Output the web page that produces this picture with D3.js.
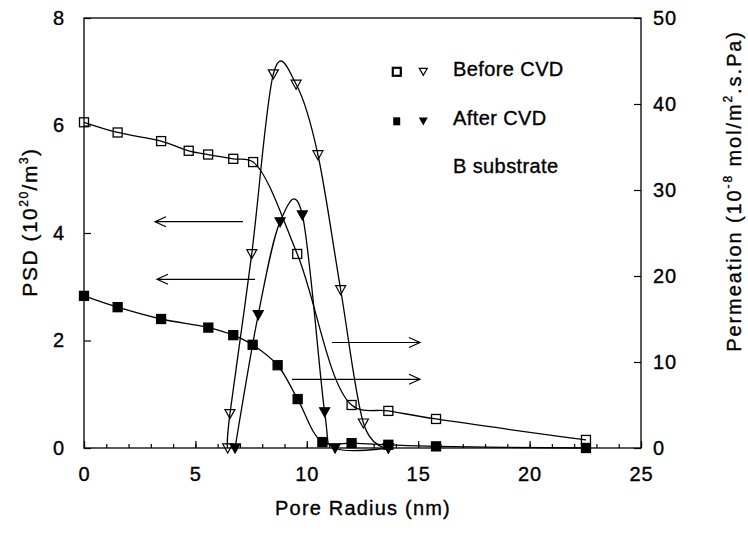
<!DOCTYPE html>
<html><head><meta charset="utf-8">
<script src="https://cdn.jsdelivr.net/npm/d3@7"></script>
<style>
body{margin:0;background:#fff;}
svg{display:block;}
text{font-family:"Liberation Sans",Arial,sans-serif;fill:#000;stroke:#000;stroke-width:0.35px;}
</style></head>
<body>
<svg id="chart" width="748" height="540"></svg>
<script>
// ---- data ----
const xTicks = [0, 5, 10, 15, 20, 25];
const yLeftTicks = [0, 2, 4, 6, 8];
const yRightTicks = [0, 10, 20, 30, 40, 50];

// PSD (10^20/m^3) vs pore radius (nm)
const psdBeforeX = [0, 1.51, 3.46, 4.70, 5.57, 6.70, 7.59, 9.57, 12.01, 13.66, 15.8, 22.53];
const psdBeforeY = [6.06, 5.87, 5.71, 5.53, 5.46, 5.38, 5.32, 3.61, 0.80, 0.69, 0.54, 0.15];
const psdAfterX = [0, 1.51, 3.46, 5.58, 6.70, 7.57, 8.69, 9.59, 10.70, 12.01, 13.66, 15.8, 22.53];
const psdAfterY = [2.83, 2.62, 2.40, 2.24, 2.10, 1.92, 1.54, 0.91, 0.11, 0.09, 0.06, 0.03, 0.0];

// Permeation (10^-8 mol/m^2.s.Pa) vs pore radius (nm)
const permBeforeX = [6.45, 6.55, 7.53, 8.50, 9.52, 10.50, 11.52, 12.54, 13.66];
const permBeforeY = [0, 4.0, 22.6, 43.5, 42.3, 34.1, 18.4, 2.9, 0];
const permAfterX = [6.78, 7.82, 8.80, 9.80, 10.80, 11.27, 13.66];
const permAfterY = [0, 15.5, 26.3, 27.1, 4.2, 0, 0];

// ---- layout ----
const svg = d3.select("#chart");
const L = 84, R = 641, T = 18, B = 448;
const x = d3.scaleLinear().domain([0, 25]).range([L, R]);
const yL = d3.scaleLinear().domain([0, 8]).range([B, T]);
const yR = d3.scaleLinear().domain([0, 50]).range([B, T]);
const FS = 20;

// frame
svg.append("rect").attr("x", L).attr("y", T).attr("width", R - L).attr("height", B - T)
  .attr("fill", "none").attr("stroke", "#000").attr("stroke-width", 1.3);

function styleAxis(g) {
  g.select(".domain").remove();
  g.selectAll("line").attr("stroke", "#000").attr("stroke-width", 1.2);
  g.selectAll("text").attr("font-size", FS).attr("letter-spacing", 1)
    .attr("font-family", '"Liberation Sans",Arial,sans-serif').attr("fill", "#000");
}

svg.append("g").attr("transform", `translate(${L},0)`)
  .call(d3.axisLeft(yL).tickValues(yLeftTicks).tickSize(-7).tickSizeOuter(0).tickPadding(19).tickFormat(d3.format("d")))
  .call(styleAxis);
svg.append("g").attr("transform", `translate(${R},0)`)
  .call(d3.axisRight(yR).tickValues(yRightTicks).tickSize(-7).tickSizeOuter(0).tickPadding(12).tickFormat(d3.format("d")))
  .call(styleAxis);
svg.append("g").attr("transform", `translate(0,${B})`)
  .call(d3.axisBottom(x).tickValues(xTicks).tickSize(-7).tickSizeOuter(0).tickPadding(19).tickFormat(d3.format("d")))
  .call(styleAxis);
svg.append("g").attr("transform", `translate(0,${B})`)
  .call(d3.axisBottom(x).tickValues(d3.range(0, 26, 1)).tickSize(-4).tickSizeOuter(0).tickFormat(""))
  .call(styleAxis);

// axis titles
svg.append("text").attr("x", 363).attr("y", 515).attr("text-anchor", "middle")
  .attr("font-size", FS).attr("letter-spacing", 1.2).text("Pore Radius (nm)");

const lt = svg.append("text").attr("transform", "translate(37,222) rotate(-90)")
  .attr("text-anchor", "middle").attr("font-size", 21).attr("letter-spacing", 1.5);
lt.append("tspan").text("PSD (10");
lt.append("tspan").attr("font-size", 12).attr("dy", -9).text("20");
lt.append("tspan").attr("dy", 9).text("/m");
lt.append("tspan").attr("font-size", 12).attr("dy", -9).text("3");
lt.append("tspan").attr("dy", 9).text(")");

const rt = svg.append("text").attr("transform", "translate(741,191) rotate(-90)")
  .attr("text-anchor", "middle").attr("font-size", 20).attr("letter-spacing", 1.9);
rt.append("tspan").text("Permeation (10");
rt.append("tspan").attr("font-size", 12).attr("dy", -9).text("-8");
rt.append("tspan").attr("dy", 9).text(" mol/m");
rt.append("tspan").attr("font-size", 12).attr("dy", -9).text("2");
rt.append("tspan").attr("dy", 9).text(".s.Pa)");

// curves
const plot = svg.append("g");
function curve(xs, ys, ys_scale, curveType) {
  const pts = xs.map((v, i) => [x(v), ys_scale(ys[i])]);
  plot.append("path").attr("d", d3.line().curve(curveType)(pts))
    .attr("fill", "none").attr("stroke", "#000").attr("stroke-width", 1.3);
  return pts;
}
const pB = curve(psdBeforeX, psdBeforeY, yL, d3.curveCatmullRom.alpha(0.5));
const pA = curve(psdAfterX, psdAfterY, yL, d3.curveCatmullRom.alpha(0.5));
const qB = curve(permBeforeX, permBeforeY, yR, d3.curveCardinal.tension(0));
const qA = curve(permAfterX, permAfterY, yR, d3.curveCardinal.tension(0));

// markers
const tri = (w, h) => `M0,${h * 0.55} L${-w / 2},${-h * 0.45} L${w / 2},${-h * 0.45} Z`;
function squares(pts, filled, s) {
  plot.selectAll(null).data(pts).enter().append("rect")
    .attr("x", d => d[0] - s / 2).attr("y", d => d[1] - s / 2).attr("width", s).attr("height", s)
    .attr("fill", filled ? "#000" : "none").attr("stroke", "#000").attr("stroke-width", 1.3);
}
function triangles(pts, filled, s) {
  plot.selectAll(null).data(pts).enter().append("path")
    .attr("transform", d => `translate(${d[0]},${d[1]})`).attr("d", tri(s, s * 0.9))
    .attr("fill", filled ? "#000" : "none").attr("stroke", "#000").attr("stroke-width", 1.2);
}
squares(pB, false, 9);
squares(pA, true, 9);
triangles(qB, false, 10);
triangles(qA, true, 10);

// arrows
function arrow(x1, x2, y) {
  const dir = Math.sign(x2 - x1);
  plot.append("path").attr("d", `M${x1},${y} L${x2},${y} M${x2 - dir * 11},${y - 5} L${x2},${y} L${x2 - dir * 11},${y + 5}`)
    .attr("fill", "none").attr("stroke", "#000").attr("stroke-width", 1.2);
}
arrow(243, 155, 221.7);
arrow(255, 157, 279.3);
arrow(332, 420, 342.5);
arrow(292, 420, 379.3);

// legend
const lg = svg.append("g");
lg.append("rect").attr("x", 392.8).attr("y", 67.8).attr("width", 8).attr("height", 8)
  .attr("fill", "none").attr("stroke", "#000").attr("stroke-width", 2.2);
lg.append("path").attr("transform", "translate(423.3,71.5)").attr("d", tri(8, 7))
  .attr("fill", "none").attr("stroke", "#000").attr("stroke-width", 1.2);
lg.append("rect").attr("x", 393.2).attr("y", 117.3).attr("width", 7).attr("height", 8).attr("fill", "#000");
lg.append("path").attr("transform", "translate(423.3,121)").attr("d", tri(9, 8)).attr("fill", "#000");
lg.append("text").attr("x", 453).attr("y", 76).attr("font-size", FS).attr("letter-spacing", 0.4).text("Before CVD");
lg.append("text").attr("x", 453).attr("y", 125).attr("font-size", FS).attr("letter-spacing", 0.4).text("After CVD");
lg.append("text").attr("x", 453).attr("y", 173).attr("font-size", FS).attr("letter-spacing", 0.4).text("B substrate");
</script>
</body></html>
